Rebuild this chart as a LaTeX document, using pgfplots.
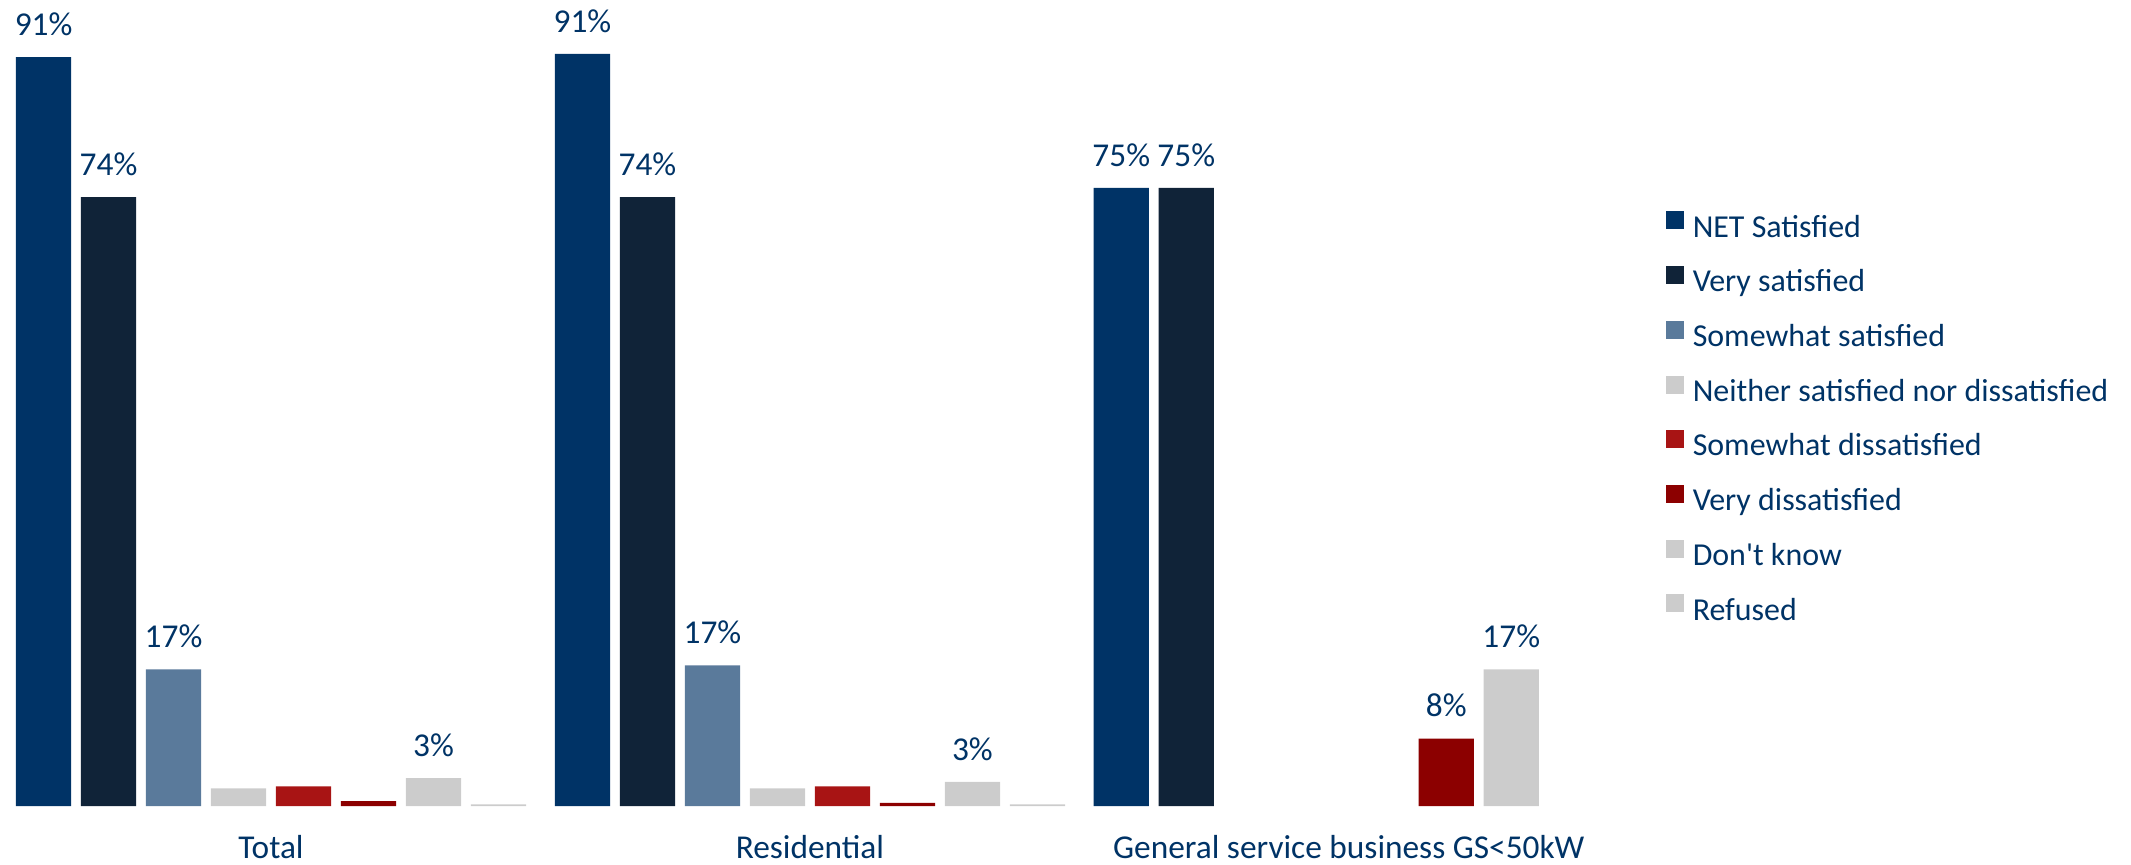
\documentclass[border=0pt]{standalone}
\usepackage{pgfplots}
\pgfplotsset{compat=1.18}
\usepackage{fontspec}
\setmainfont{Carlito}[Ligatures=TeXOff]
\definecolor{cNet}{RGB}{0,51,102}
\definecolor{cVery}{RGB}{16,35,56}
\definecolor{cSome}{RGB}{90,122,155}
\definecolor{cGrey}{RGB}{204,204,204}
\definecolor{cSDis}{RGB}{168,20,20}
\definecolor{cVDis}{RGB}{140,0,0}
\definecolor{cText}{RGB}{0,51,102}
\newcommand{\cf}{\fontsize{11.5}{13.8}\selectfont}
\newcommand{\lf}{\fontsize{12}{14.4}\selectfont}
\begin{document}
\begin{tikzpicture}
\begin{axis}[
  x=194.0pt, y=2.963pt,
  xmin=-0.503, xmax=2.5, ymin=0, ymax=98,
  ybar=3.5pt, bar width=19.9pt,
  axis line style={draw=none},
  major tick length=0pt,
  ytick=\empty,
  xtick={0,1,2},
  xticklabels={Total,Residential,General service business GS<50kW},
  xticklabel style={anchor=base, yshift=-18.7pt, text=cText, font=\lf, inner sep=0pt},
  clip=false,
  point meta=explicit symbolic,
  nodes near coords,
  nodes near coords style={font=\lf, text=cText, anchor=south, inner sep=0pt, yshift=7.5pt},
  legend cell align=left,
  legend image code/.code={\fill[#1] (0pt,0pt) rectangle (6.5pt,6.5pt);},
  legend style={at={(1.0294,0.738)}, anchor=north west, draw=none, fill=none,
    inner sep=0pt, row sep=7.45pt, column sep=3pt, font=\cf, text=cText,
    nodes={inner sep=0pt, text height=8.5pt, text depth=3pt}},
]
\addplot[fill=cNet, draw=none] coordinates {(0,91) [91\%] (1,91.4) [91\%] (2,75.1) [75\%]};
\addlegendentry{NET Satisfied}
\addplot[fill=cVery, draw=none] coordinates {(0,74) [74\%] (1,74) [74\%] (2,75.1) [75\%]};
\addlegendentry{Very satisfied}
\addplot[fill=cSome, draw=none] coordinates {(0,16.6) [17\%] (1,17.1) [17\%]};
\addlegendentry{Somewhat satisfied}
\addplot[fill=cGrey, draw=none] coordinates {(0,2.15) [] (1,2.15) []};
\addlegendentry{Neither satisfied nor dissatisfied}
\addplot[fill=cSDis, draw=none] coordinates {(0,2.4) [] (1,2.4) []};
\addlegendentry{Somewhat dissatisfied}
\addplot[fill=cVDis, draw=none] coordinates {(0,0.6) [] (1,0.4) [] (2,8.2) [8\%]};
\addlegendentry{Very dissatisfied}
\addplot[fill=cGrey, draw=none] coordinates {(0,3.4) [3\%] (1,2.95) [3\%] (2,16.6) [17\%]};
\addlegendentry{Don't know}
\addplot[fill=cGrey, draw=none] coordinates {(0,0.2) [] (1,0.2) []};
\addlegendentry{Refused}
\end{axis}
\pgfresetboundingbox
\path (0pt,-20.9pt) rectangle (767.2pt,290.2pt);
\end{tikzpicture}
\end{document}
